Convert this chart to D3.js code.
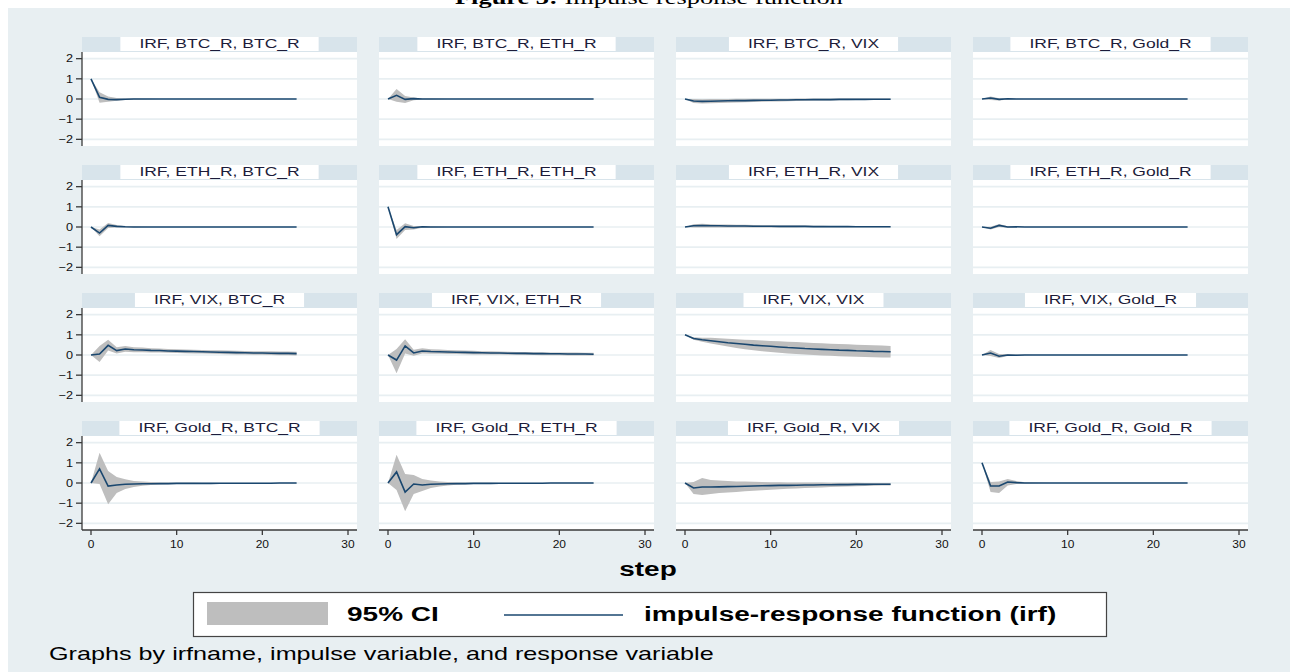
<!DOCTYPE html>
<html><head><meta charset="utf-8">
<script src="https://cdn.jsdelivr.net/npm/d3@7"></script>
<style>html,body{margin:0;padding:0;background:#fff;}svg{display:block;}</style>
</head><body>
<svg id="chart" width="1290" height="672"></svg>
<script>
// ---------------- DATA ----------------
const variables = ["BTC_R", "ETH_R", "VIX", "Gold_R"]; // impulse (rows) and response (columns)
const steps = [0,1,2,3,4,5,6,7,8,9,10,11,12,13,14,15,16,17,18,19,20,21,22,23,24];
const xTicks = [0, 10, 20, 30];
const xTickLabels = ["0", "10", "20", "30"];
const yTicks = [-2, -1, 0, 1, 2];
const yTickLabels = ["\u22122", "\u22121", "0", "1", "2"];
const xLabel = "step";
const legendLabels = ["95% CI", "impulse-response function (irf)"];
const figureTitle = ["Figure 3:", " Impulse response function"];
const footnote = "Graphs by irfname, impulse variable, and response variable";

// impulse BTC_R
const irf_BTC_BTC = [1.00,0.08,-0.02,-0.03,-0.01, 0,0,0,0,0, 0,0,0,0,0, 0,0,0,0,0, 0,0,0,0,0];
const lo_BTC_BTC  = [1.00,-0.18,-0.14,-0.09,-0.05, -0.03,-0.02,-0.01,0,0, 0,0,0,0,0, 0,0,0,0,0, 0,0,0,0,0];
const hi_BTC_BTC  = [1.00,0.34,0.12,0.05,0.03, 0.02,0.01,0.01,0,0, 0,0,0,0,0, 0,0,0,0,0, 0,0,0,0,0];
const irf_BTC_ETH = [0,0.18,-0.02,0.02,0, 0,0,0,0,0, 0,0,0,0,0, 0,0,0,0,0, 0,0,0,0,0];
const lo_BTC_ETH  = [0,-0.14,-0.20,-0.06,-0.03, -0.02,-0.01,0,0,0, 0,0,0,0,0, 0,0,0,0,0, 0,0,0,0,0];
const hi_BTC_ETH  = [0,0.50,0.15,0.08,0.03, 0.02,0.01,0,0,0, 0,0,0,0,0, 0,0,0,0,0, 0,0,0,0,0];
const irf_BTC_VIX = [0,-0.10,-0.12,-0.11,-0.10, -0.09,-0.08,-0.08,-0.07,-0.06, -0.06,-0.05,-0.05,-0.04,-0.04, -0.03,-0.03,-0.03,-0.02,-0.02, -0.02,-0.02,-0.01,-0.01,-0.01];
const lo_BTC_VIX  = [0,-0.20,-0.22,-0.21,-0.20, -0.18,-0.17,-0.16,-0.15,-0.14, -0.13,-0.12,-0.11,-0.10,-0.09, -0.08,-0.08,-0.07,-0.06,-0.06, -0.05,-0.05,-0.04,-0.04,-0.04];
const hi_BTC_VIX  = [0,0.00,-0.01,0.00,0.00, 0.00,0.01,0.01,0.01,0.01, 0.01,0.01,0.01,0.02,0.02, 0.02,0.02,0.02,0.02,0.02, 0.02,0.02,0.02,0.02,0.02];
const irf_BTC_Gold = [0,0.05,-0.02,0.01,0, 0,0,0,0,0, 0,0,0,0,0, 0,0,0,0,0, 0,0,0,0,0];
const lo_BTC_Gold  = [0,-0.05,-0.08,-0.03,-0.01, 0,0,0,0,0, 0,0,0,0,0, 0,0,0,0,0, 0,0,0,0,0];
const hi_BTC_Gold  = [0,0.13,0.04,0.04,0.01, 0,0,0,0,0, 0,0,0,0,0, 0,0,0,0,0, 0,0,0,0,0];

// impulse ETH_R
const irf_ETH_BTC = [0,-0.30,0.08,0.03,0.01, 0,0,0,0,0, 0,0,0,0,0, 0,0,0,0,0, 0,0,0,0,0];
const lo_ETH_BTC  = [0,-0.46,-0.05,-0.03,-0.02, -0.01,0,0,0,0, 0,0,0,0,0, 0,0,0,0,0, 0,0,0,0,0];
const hi_ETH_BTC  = [0,-0.12,0.20,0.10,0.04, 0.02,0.01,0,0,0, 0,0,0,0,0, 0,0,0,0,0, 0,0,0,0,0];
const irf_ETH_ETH = [1.00,-0.38,0.02,-0.04,0.01, 0,0,0,0,0, 0,0,0,0,0, 0,0,0,0,0, 0,0,0,0,0];
const lo_ETH_ETH  = [1.00,-0.60,-0.15,-0.12,-0.04, -0.02,-0.01,0,0,0, 0,0,0,0,0, 0,0,0,0,0, 0,0,0,0,0];
const hi_ETH_ETH  = [1.00,-0.15,0.18,0.05,0.05, 0.02,0.01,0,0,0, 0,0,0,0,0, 0,0,0,0,0, 0,0,0,0,0];
const irf_ETH_VIX = [0,0.06,0.07,0.06,0.06, 0.05,0.05,0.05,0.04,0.04, 0.04,0.03,0.03,0.03,0.03, 0.02,0.02,0.02,0.02,0.02, 0.01,0.01,0.01,0.01,0.01];
const lo_ETH_VIX  = [0,-0.02,-0.02,-0.02,-0.02, -0.02,-0.02,-0.02,-0.02,-0.02, -0.02,-0.02,-0.02,-0.02,-0.01, -0.01,-0.01,-0.01,-0.01,-0.01, -0.01,-0.01,-0.01,-0.01,-0.01];
const hi_ETH_VIX  = [0,0.14,0.16,0.14,0.13, 0.12,0.11,0.11,0.10,0.09, 0.09,0.08,0.08,0.07,0.07, 0.06,0.06,0.05,0.05,0.05, 0.04,0.04,0.04,0.03,0.03];
const irf_ETH_Gold = [0,-0.06,0.08,0.00,0.01, 0,0,0,0,0, 0,0,0,0,0, 0,0,0,0,0, 0,0,0,0,0];
const lo_ETH_Gold  = [0,-0.13,0.00,-0.04,-0.01, 0,0,0,0,0, 0,0,0,0,0, 0,0,0,0,0, 0,0,0,0,0];
const hi_ETH_Gold  = [0,0.01,0.15,0.04,0.02, 0,0,0,0,0, 0,0,0,0,0, 0,0,0,0,0, 0,0,0,0,0];

// impulse VIX
const irf_VIX_BTC = [0,0.05,0.48,0.22,0.30, 0.26,0.25,0.23,0.22,0.20, 0.19,0.18,0.17,0.16,0.15, 0.14,0.13,0.12,0.11,0.10, 0.10,0.09,0.08,0.08,0.07];
const lo_VIX_BTC  = [0,-0.35,0.22,0.08,0.16, 0.14,0.14,0.13,0.12,0.11, 0.10,0.09,0.08,0.07,0.06, 0.05,0.04,0.03,0.02,0.01, 0.01,0.00,-0.01,-0.01,-0.02];
const hi_VIX_BTC  = [0,0.45,0.75,0.38,0.44, 0.39,0.37,0.34,0.32,0.30, 0.29,0.27,0.26,0.25,0.24, 0.23,0.22,0.21,0.20,0.19, 0.19,0.18,0.17,0.17,0.16];
const irf_VIX_ETH = [0,-0.25,0.45,0.10,0.20, 0.17,0.16,0.15,0.14,0.13, 0.12,0.11,0.10,0.10,0.09, 0.08,0.08,0.07,0.07,0.06, 0.06,0.05,0.05,0.05,0.04];
const lo_VIX_ETH  = [0,-0.90,0.08,-0.04,0.07, 0.06,0.06,0.05,0.05,0.04, 0.03,0.03,0.02,0.02,0.01, 0.01,0.00,0.00,-0.01,-0.01, -0.01,-0.02,-0.02,-0.02,-0.03];
const hi_VIX_ETH  = [0,0.30,0.78,0.26,0.33, 0.29,0.27,0.25,0.24,0.22, 0.21,0.19,0.18,0.17,0.16, 0.15,0.15,0.14,0.14,0.13, 0.13,0.12,0.12,0.11,0.11];
const irf_VIX_VIX = [1.00,0.82,0.76,0.71,0.66, 0.61,0.57,0.53,0.49,0.46, 0.43,0.40,0.37,0.35,0.32, 0.30,0.28,0.26,0.24,0.23, 0.21,0.20,0.18,0.17,0.16];
const lo_VIX_VIX  = [1.00,0.76,0.66,0.57,0.49, 0.42,0.35,0.29,0.24,0.19, 0.15,0.11,0.08,0.05,0.02, 0.00,-0.02,-0.04,-0.06,-0.08, -0.09,-0.10,-0.11,-0.12,-0.13];
const hi_VIX_VIX  = [1.00,0.88,0.86,0.85,0.83, 0.80,0.78,0.76,0.74,0.72, 0.70,0.68,0.66,0.64,0.62, 0.60,0.58,0.56,0.54,0.53, 0.51,0.50,0.48,0.47,0.45];
const irf_VIX_Gold = [0,0.10,-0.06,0.00,-0.01, 0,0,0,0,0, 0,0,0,0,0, 0,0,0,0,0, 0,0,0,0,0];
const lo_VIX_Gold  = [0,-0.05,-0.15,-0.05,-0.03, -0.01,0,0,0,0, 0,0,0,0,0, 0,0,0,0,0, 0,0,0,0,0];
const hi_VIX_Gold  = [0,0.25,0.05,0.05,0.02, 0.01,0,0,0,0, 0,0,0,0,0, 0,0,0,0,0, 0,0,0,0,0];

// impulse Gold_R
const irf_Gold_BTC = [0,0.70,-0.15,-0.10,-0.06, -0.05,-0.04,-0.04,-0.03,-0.03, -0.02,-0.02,-0.02,-0.02,-0.02, -0.01,-0.01,-0.01,-0.01,-0.01, -0.01,-0.01,0,0,0];
const lo_Gold_BTC  = [0,-0.05,-1.05,-0.50,-0.30, -0.20,-0.14,-0.10,-0.08,-0.06, -0.05,-0.04,-0.03,-0.03,-0.02, -0.02,-0.02,-0.02,-0.01,-0.01, -0.01,-0.01,-0.01,-0.01,-0.01];
const hi_Gold_BTC  = [0,1.50,0.60,0.30,0.18, 0.10,0.07,0.05,0.03,0.02, 0.01,0.01,0.01,0,0, 0,0,0,0,0, 0,0,0,0,0];
const irf_Gold_ETH = [0,0.55,-0.45,-0.05,-0.10, -0.06,-0.05,-0.04,-0.03,-0.03, -0.02,-0.02,-0.02,-0.01,-0.01, -0.01,-0.01,-0.01,-0.01,0, 0,0,0,0,0];
const lo_Gold_ETH  = [0,-0.35,-1.40,-0.55,-0.40, -0.25,-0.17,-0.12,-0.09,-0.07, -0.05,-0.04,-0.03,-0.03,-0.02, -0.02,-0.02,-0.01,-0.01,-0.01, -0.01,-0.01,-0.01,-0.01,-0.01];
const hi_Gold_ETH  = [0,1.40,0.45,0.40,0.20, 0.12,0.07,0.05,0.03,0.02, 0.01,0.01,0.01,0,0, 0,0,0,0,0, 0,0,0,0,0];
const irf_Gold_VIX = [0,-0.25,-0.20,-0.20,-0.19, -0.18,-0.17,-0.16,-0.15,-0.14, -0.13,-0.12,-0.12,-0.11,-0.10, -0.10,-0.09,-0.09,-0.08,-0.08, -0.07,-0.07,-0.06,-0.06,-0.06];
const lo_Gold_VIX  = [0,-0.55,-0.60,-0.55,-0.50, -0.47,-0.44,-0.41,-0.38,-0.36, -0.33,-0.31,-0.29,-0.27,-0.25, -0.23,-0.22,-0.20,-0.19,-0.17, -0.16,-0.15,-0.14,-0.13,-0.12];
const hi_Gold_VIX  = [0,0.05,0.25,0.15,0.12, 0.10,0.08,0.07,0.06,0.05, 0.04,0.04,0.03,0.03,0.02, 0.02,0.02,0.01,0.01,0.01, 0.01,0,0,0,0];
const irf_Gold_Gold = [1.00,-0.15,-0.15,0.05,0.02, 0,0,0,0,0, 0,0,0,0,0, 0,0,0,0,0, 0,0,0,0,0];
const lo_Gold_Gold  = [1.00,-0.45,-0.50,-0.12,-0.05, -0.02,-0.01,0,0,0, 0,0,0,0,0, 0,0,0,0,0, 0,0,0,0,0];
const hi_Gold_Gold  = [1.00,0.05,0.08,0.20,0.10, 0.04,0.02,0.01,0,0, 0,0,0,0,0, 0,0,0,0,0, 0,0,0,0,0];

const panelData = [
  [[irf_BTC_BTC,lo_BTC_BTC,hi_BTC_BTC],[irf_BTC_ETH,lo_BTC_ETH,hi_BTC_ETH],[irf_BTC_VIX,lo_BTC_VIX,hi_BTC_VIX],[irf_BTC_Gold,lo_BTC_Gold,hi_BTC_Gold]],
  [[irf_ETH_BTC,lo_ETH_BTC,hi_ETH_BTC],[irf_ETH_ETH,lo_ETH_ETH,hi_ETH_ETH],[irf_ETH_VIX,lo_ETH_VIX,hi_ETH_VIX],[irf_ETH_Gold,lo_ETH_Gold,hi_ETH_Gold]],
  [[irf_VIX_BTC,lo_VIX_BTC,hi_VIX_BTC],[irf_VIX_ETH,lo_VIX_ETH,hi_VIX_ETH],[irf_VIX_VIX,lo_VIX_VIX,hi_VIX_VIX],[irf_VIX_Gold,lo_VIX_Gold,hi_VIX_Gold]],
  [[irf_Gold_BTC,lo_Gold_BTC,hi_Gold_BTC],[irf_Gold_ETH,lo_Gold_ETH,hi_Gold_ETH],[irf_Gold_VIX,lo_Gold_VIX,hi_Gold_VIX],[irf_Gold_Gold,lo_Gold_Gold,hi_Gold_Gold]]
];

// ---------------- LAYOUT / STYLE ----------------
const SANS = "'Liberation Sans', Arial, Helvetica, sans-serif";
const SERIF = "'Liberation Serif', 'Times New Roman', serif";
const SX = 1.4;          // horizontal text stretch of the reference
const BG = "#e8eff2", STRIP = "#d8e4eb", GRID = "#e8eff2";
const LINE = "#1a476f", BAND = "#bebebe", AXIS = "#3a3a3a";
const panelW = 275, plotH = 94, stripH = 15;
const colX0 = 82, colPitch = 297, rowY0 = 52, rowPitch = 128;

const svg = d3.select("#chart");
svg.append("rect").attr("width",1290).attr("height",672).attr("fill","#fff");
svg.append("rect").attr("x",8).attr("y",8).attr("width",1282).attr("height",664).attr("fill",BG);

function stext(parent, str, x, y, o) {
  o = o || {};
  return parent.append("text")
    .attr("transform", `translate(${x},${y}) scale(${o.sx || SX},1)`)
    .attr("text-anchor", o.anchor || "start")
    .attr("font-family", o.family || SANS)
    .attr("font-size", o.size || 12)
    .attr("font-weight", o.weight || "normal")
    .attr("fill", o.fill || "#000")
    .text(str);
}

// Figure caption (cut at the top)
{
  const t = svg.append("text").attr("font-family", SERIF).attr("font-size", 18).attr("fill","#000");
  t.append("tspan").attr("font-weight","bold").text(figureTitle[0]);
  t.append("tspan").text(figureTitle[1]);
  const w = t.node().getComputedTextLength();
  const s = 388 / w;
  t.attr("transform", `translate(${649 - 388/2},4) scale(${s},1)`);
}

const x = d3.scaleLinear().domain([-1.05, 31.05]).range([0, panelW]);
const y = d3.scaleLinear().domain([-2.33, 2.33]).range([plotH, 0]);

const area = d3.area().x((d,i) => x(steps[i])).y0(d => y(d[0])).y1(d => y(d[1]));
const line = d3.line().x((d,i) => x(steps[i])).y(d => y(d));

variables.forEach((imp, r) => {
  variables.forEach((resp, c) => {
    const gx = colX0 + c * colPitch, gy = rowY0 + r * rowPitch;
    const g = svg.append("g").attr("transform", `translate(${gx},${gy})`);
    // strip
    g.append("rect").attr("x",0).attr("y",-stripH).attr("width",panelW).attr("height",stripH).attr("fill",STRIP);
    const title = `IRF, ${imp}, ${resp}`;
    const tt = stext(g, title, panelW/2, -3.7, {anchor:"middle", size:12.5, fill:"#1c1c3a"});
    const tw = tt.node().getComputedTextLength() * SX;
    g.insert("rect", "text").attr("x", panelW/2 - tw/2 - 19).attr("y",-stripH).attr("width", tw + 38).attr("height", stripH - 1).attr("fill","#fff");
    // plot region
    g.append("rect").attr("x",0).attr("y",0).attr("width",panelW).attr("height",plotH).attr("fill","#fff");
    g.selectAll("line.grid").data(yTicks).enter().append("line")
      .attr("x1",0).attr("x2",panelW).attr("y1",d=>y(d)).attr("y2",d=>y(d))
      .attr("stroke",GRID).attr("stroke-width",1.6);
    const [irf, lo, hi] = panelData[r][c];
    g.append("path").datum(lo.map((v,i)=>[v, hi[i]])).attr("d", area).attr("fill", BAND);
    g.append("path").datum(irf).attr("d", line).attr("fill","none").attr("stroke",LINE).attr("stroke-width",1.6);

    // y axis on the first column
    if (c === 0) {
      const ya = g.append("g");
      ya.append("line").attr("x1",0).attr("x2",0).attr("y1",0).attr("y2",plotH).attr("stroke",AXIS).attr("stroke-width",1.3);
      yTicks.forEach((t,i) => {
        ya.append("line").attr("x1",-6).attr("x2",0).attr("y1",y(t)).attr("y2",y(t)).attr("stroke",AXIS).attr("stroke-width",1.3);
        stext(ya, yTickLabels[i], -9, y(t)+3.8, {anchor:"end", size:11, sx:1.15, fill:"#111"});
      });
    }
    // x axis on the bottom row
    if (r === variables.length - 1) {
      const xa = g.append("g").attr("transform", `translate(0,${plotH})`);
      xa.append("line").attr("x1",0).attr("x2",panelW).attr("y1",0).attr("y2",0).attr("stroke",AXIS).attr("stroke-width",1.3);
      xTicks.forEach((t,i) => {
        xa.append("line").attr("x1",x(t)).attr("x2",x(t)).attr("y1",0).attr("y2",5).attr("stroke",AXIS).attr("stroke-width",1.3);
        stext(xa, xTickLabels[i], x(t), 18, {anchor:"middle", size:10, sx:1.2, fill:"#111"});
      });
    }
  });
});

// x axis title
stext(svg, xLabel, 648, 576, {anchor:"middle", size:20, weight:"bold"});

// legend
const lg = svg.append("g");
lg.append("rect").attr("x",193.5).attr("y",592.5).attr("width",913).attr("height",44).attr("fill","#fff").attr("stroke","#444").attr("stroke-width",1.2);
lg.append("rect").attr("x",207).attr("y",602).attr("width",121).attr("height",23).attr("fill",BAND);
stext(lg, legendLabels[0], 347, 621, {size:20, weight:"bold"});
lg.append("line").attr("x1",504).attr("x2",623).attr("y1",615).attr("y2",615).attr("stroke",LINE).attr("stroke-width",1.6);
stext(lg, legendLabels[1], 644, 621, {size:20, weight:"bold"});

// note
stext(svg, footnote, 49, 660, {size:18});
</script>
</body></html>
